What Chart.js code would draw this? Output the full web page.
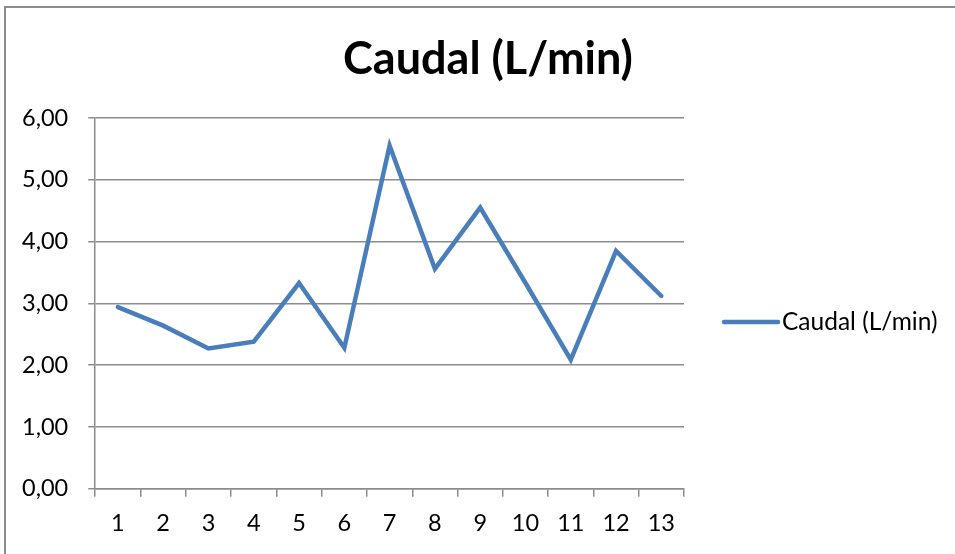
<!DOCTYPE html>
<html>
<head>
<meta charset="utf-8">
<script src="https://cdn.jsdelivr.net/npm/chart.js@4.4.1/dist/chart.umd.min.js"></script>
<style>
  html, body { margin: 0; padding: 0; background: #fff; }
  #frame { position: absolute; left: 4px; top: 6px; width: 960px; height: 560px; border: 2px solid #8c8c8c; box-sizing: border-box; }
  #wrap { position: absolute; left: 0; top: 0; width: 955px; height: 554px; }
</style>
</head>
<body>
<div id="frame"></div>
<div id="wrap"><canvas id="c" width="955" height="554"></canvas></div>
<script>
const categories = ['1','2','3','4','5','6','7','8','9','10','11','12','13'];
const caudal = [2.94, 2.64, 2.27, 2.38, 3.33, 2.28, 5.55, 3.56, 4.55, 3.33, 2.09, 3.85, 3.12];
const seriesName = 'Caudal (L/min)';
const titleText = 'Caudal (L/min)';
const yTicks = [0, 1, 2, 3, 4, 5, 6];

const FONT = 'Lato, "Open Sans", sans-serif';
const GRID = '#8c8c8c';
const LINE = '#4a7ebb';

const decor = {
  id: 'decor',
  afterDraw(chart) {
    const ctx = chart.ctx;
    const ca = chart.chartArea;
    ctx.save();
    // title
    ctx.fillStyle = '#000';
    ctx.font = 'bold 45px ' + FONT;
    ctx.textAlign = 'center';
    ctx.textBaseline = 'middle';
    ctx.fillText(titleText, 488, 59);
    // legend
    const ds = chart.data.datasets[0];
    const ly = 322;
    const lx = ca.right + 40;
    ctx.strokeStyle = ds.borderColor;
    ctx.lineWidth = ds.borderWidth;
    ctx.lineCap = 'round';
    ctx.beginPath();
    ctx.moveTo(lx, ly);
    ctx.lineTo(lx + 54, ly);
    ctx.stroke();
    ctx.font = '24.5px ' + FONT;
    ctx.textAlign = 'left';
    ctx.fillText(ds.label, lx + 58, ly);
    ctx.restore();
  }
};

new Chart(document.getElementById('c'), {
  type: 'line',
  data: {
    labels: categories,
    datasets: [{
      label: seriesName,
      data: caudal,
      borderColor: LINE,
      backgroundColor: LINE,
      borderWidth: 4.5,
      pointRadius: 0,
      pointHoverRadius: 0,
      tension: 0,
      borderCapStyle: 'round',
      borderJoinStyle: 'miter'
    }]
  },
  plugins: [decor],
  options: {
    responsive: false,
    animation: false,
    devicePixelRatio: 1,
    layout: { padding: { left: 2, right: 271, top: 118, bottom: 3 } },
    plugins: {
      title: { display: false },
      legend: { display: false },
      tooltip: { enabled: false }
    },
    scales: {
      x: {
        offset: true,
        grid: { offset: true, drawOnChartArea: false, drawTicks: true, tickLength: 8, color: GRID, lineWidth: 1.5 },
        border: { color: GRID, width: 1.5 },
        ticks: { color: '#000', font: { family: FONT, size: 23.5 }, padding: 13, maxRotation: 0 }
      },
      y: {
        min: 0, max: 6,
        afterBuildTicks: (axis) => { axis.ticks = yTicks.map(v => ({ value: v })); },
        grid: { color: GRID, lineWidth: 1.5, tickLength: 7 },
        border: { color: GRID, width: 1.5 },
        ticks: {
          color: '#000',
          font: { family: FONT, size: 23.5 },
          padding: 20,
          callback: (v) => Number(v).toFixed(2).replace('.', ',')
        }
      }
    }
  }
});
</script>
</body>
</html>
